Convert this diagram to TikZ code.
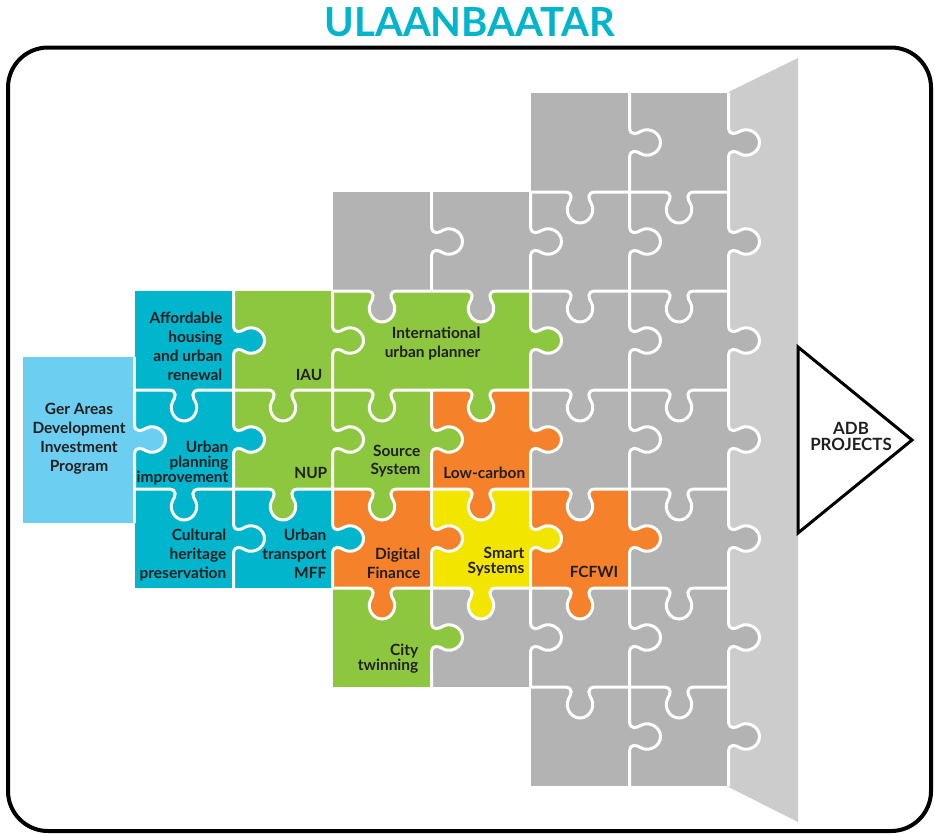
\documentclass[tikz,border=0pt]{standalone}
\usepackage{fontspec}
\setmainfont{Lato}
\definecolor{pzteal}{RGB}{0,181,204}
\definecolor{pzgreen}{RGB}{141,198,63}
\definecolor{pzorange}{RGB}{245,130,42}
\definecolor{pzyellow}{RGB}{242,229,0}
\definecolor{pzgray}{RGB}{179,179,179}
\definecolor{pzpanel}{RGB}{204,204,204}
\definecolor{pzlight}{RGB}{108,206,240}
\definecolor{txtdark}{RGB}{35,31,32}
\tikzset{
  seam/.style={white,line width=0.3mm,line join=round},
  lbl/.style={font=\fontsize{4.4}{5.4}\selectfont\bfseries,text=txtdark,align=right,inner sep=0pt,anchor=base east},
  tight/.style={font=\fontsize{4.4}{4.2}\selectfont\bfseries},
}
\newcommand\knobdown[2]{({#1+35},{#2}) .. controls ({#1+43},{#2+1}) and ({#1+41},{#2+7}) .. ({#1+38},{#2+12})
  .. controls ({#1+34},{#2+20}) and ({#1+40},{#2+31}) .. ({#1+49.5},{#2+31})
  .. controls ({#1+59},{#2+31}) and ({#1+65},{#2+20}) .. ({#1+61},{#2+12})
  .. controls ({#1+58},{#2+7}) and ({#1+56},{#2+1}) .. ({#1+64},{#2})}
\newcommand\knobright[2]{({#1},{#2+35}) .. controls ({#1+1},{#2+43}) and ({#1+7},{#2+41}) .. ({#1+12},{#2+38})
  .. controls ({#1+20},{#2+34}) and ({#1+31},{#2+40}) .. ({#1+31},{#2+49.5})
  .. controls ({#1+31},{#2+59}) and ({#1+20},{#2+65}) .. ({#1+12},{#2+61})
  .. controls ({#1+7},{#2+58}) and ({#1+1},{#2+56}) .. ({#1},{#2+64})}

\begin{document}
\begin{tikzpicture}[x=0.1mm,y=-0.1mm]
\useasboundingbox (0,0) rectangle (935,833);
\node[font=\fontsize{11.4}{12}\selectfont\bfseries,text=pzteal,anchor=base,inner sep=0pt] (title) at (470,36) {ULAANBAATAR};

\fill[pzpanel] (728.5,92) -- (798,58) -- (798,822) -- (728.5,787) -- cycle;
\fill[pzlight] (23,357) rectangle (134.5,523);
\foreach \c/\r/\clr in {4/0/pzgray,5/0/pzgray,
    2/1/pzgray,3/1/pzgray,4/1/pzgray,5/1/pzgray,
    0/2/pzteal,1/2/pzgreen,4/2/pzgray,5/2/pzgray,
    0/3/pzteal,1/3/pzgreen,2/3/pzgreen,3/3/pzorange,4/3/pzgray,5/3/pzgray,
    0/4/pzteal,1/4/pzteal,2/4/pzorange,3/4/pzyellow,4/4/pzorange,5/4/pzgray,
    2/5/pzgreen,3/5/pzgray,4/5/pzgray,5/5/pzgray,
    4/6/pzgray,5/6/pzgray}
  \fill[\clr] ({134.5+99*\c},{93+99*\r}) rectangle +(99,99);
\fill[pzgreen] (332.5,291) rectangle +(198,99);

\foreach \c/\r/\clr in {4/0/pzgray,5/0/pzgray,
    2/1/pzgray,3/1/pzgray,4/1/pzgray,5/1/pzgray,
    0/2/pzteal,1/2/pzgreen,2/2/pzgreen,3/2/pzgreen,4/2/pzgray,5/2/pzgray,
    0/3/pzteal,1/3/pzgreen,2/3/pzgreen,3/3/pzorange,4/3/pzgray,5/3/pzgray,
    2/4/pzorange,3/4/pzyellow,4/4/pzorange,5/4/pzgray,
    4/5/pzgray,5/5/pzgray}{
  \pgfmathsetmacro\xa{134.5+99*\c}
  \pgfmathsetmacro\ya{192+99*\r}
  \fill[\clr] \knobdown{\xa}{\ya} -- cycle;
  \draw[seam] (\xa,\ya) -- \knobdown{\xa}{\ya} -- ({\xa+99},\ya);
}
\foreach \c/\r/\clr in {4/0/pzgray,5/0/pzgray,
    2/1/pzgray,3/1/pzgray,4/1/pzgray,5/1/pzgray,
    0/2/pzteal,1/2/pzgreen,3/2/pzgreen,4/2/pzgray,5/2/pzgray,
    -1/3/pzlight,0/3/pzteal,1/3/pzgreen,2/3/pzgreen,3/3/pzorange,4/3/pzgray,5/3/pzgray,
    0/4/pzteal,1/4/pzteal,2/4/pzorange,3/4/pzyellow,4/4/pzorange,5/4/pzgray,
    2/5/pzgreen,3/5/pzgray,4/5/pzgray,5/5/pzgray,
    4/6/pzgray,5/6/pzgray}{
  \pgfmathsetmacro\xa{233.5+99*(\c)}
  \pgfmathsetmacro\ya{93+99*\r}
  \fill[\clr] \knobright{\xa}{\ya} -- cycle;
  \draw[seam] (\xa,\ya) -- \knobright{\xa}{\ya} -- (\xa,{\ya+99});
}
\draw[seam] (134.5,357) -- (134.5,390) (134.5,489) -- (134.5,523);

\draw[line width=0.3mm,fill=white] (798,347) -- (912,440) -- (798,533) -- cycle;

\node[lbl] (afford) at (223,380) {Affordable\\housing\\and urban\\renewal};
\node[lbl] (iau) at (323,380) {IAU};
\node[lbl] (intl) at (481,357) {International\\urban planner};
\node[lbl,tight] (plan) at (229,482) {Urban\\planning\\improvement};
\node[lbl] (nup) at (328,478) {NUP};
\node[lbl,font=\fontsize{4.4}{5.1}\selectfont\bfseries] (source) at (421,474) {Source\\System};
\node[lbl] (lowc) at (526,478) {Low-carbon};
\node[lbl] (heritage) at (227,578) {Cultural\\heritage\\preservation};
\node[lbl] (transport) at (327,578) {Urban\\transport\\MFF};
\node[lbl] (finance) at (421,578) {Digital\\Finance};
\node[lbl,tight] (smart) at (525,573) {Smart\\Systems};
\node[lbl] (fcfwi) at (619,577) {FCFWI};
\node[lbl,tight] (twin) at (419,670) {City\\twinning};
\node[lbl,align=center,anchor=base] (ger) at (79,471) {Ger Areas\\Development\\Investment\\Program};
\node[lbl,align=center,anchor=base,font=\fontsize{4.8}{4.4}\selectfont\bfseries] (adb) at (851,450) {ADB\\PROJECTS};

\draw[line width=0.4mm,rounded corners=4mm] (8,47.5) rectangle (931,831);
\end{tikzpicture}
\end{document}
